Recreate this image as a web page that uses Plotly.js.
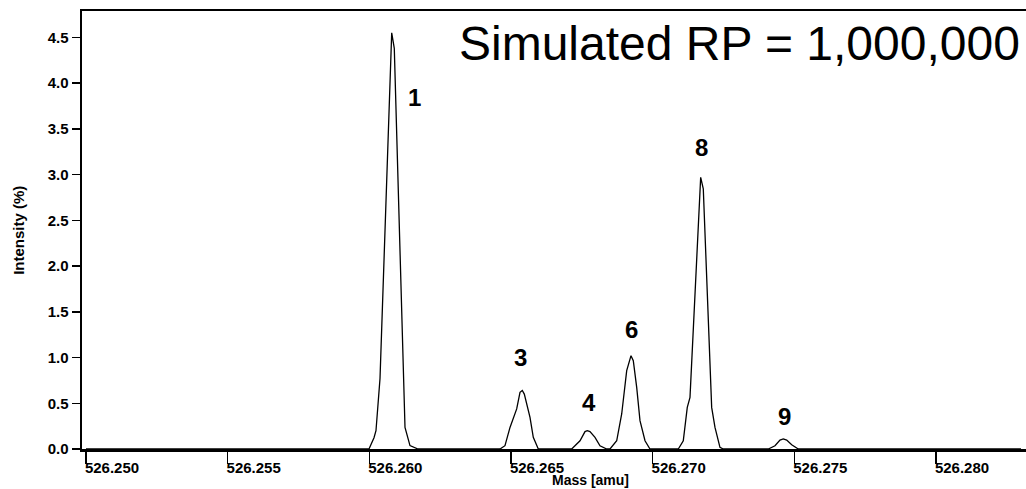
<!DOCTYPE html>
<html>
<head>
<meta charset="utf-8">
<script src="https://cdn.plot.ly/plotly-3.0.1.min.js"></script>
<style>
  html, body { margin: 0; padding: 0; background: #fff; }
  #chart { width: 1026px; height: 489px; }
</style>
</head>
<body>
<div id="chart"></div>
<script>
// Simulated isotope fine-structure profile (mass in amu, intensity in %)
const peak1Mass = [526.259988, 526.260165, 526.260235, 526.260377, 526.260790, 526.260881, 526.261259, 526.261435, 526.261718];
const peak1Int  = [0, 0.124, 0.20, 0.77, 4.55, 4.38, 0.235, 0.037, 0];

const peak3Mass = [526.264612, 526.264788, 526.264965, 526.265081, 526.265201, 526.265318, 526.265399, 526.265470, 526.265575, 526.265671, 526.265787, 526.265964];
const peak3Int  = [0, 0.036, 0.236, 0.346, 0.438, 0.62, 0.64, 0.60, 0.474, 0.346, 0.127, 0];

const peak4Mass = [526.267142, 526.267436, 526.267612, 526.267693, 526.267788, 526.267965, 526.268141, 526.268378];
const peak4Int  = [0, 0.09, 0.19, 0.20, 0.19, 0.127, 0.036, 0];

const peak6Mass = [526.268494, 526.268731, 526.268907, 526.269084, 526.269236, 526.269317, 526.269437, 526.269553, 526.269730, 526.269906];
const peak6Int  = [0, 0.09, 0.383, 0.857, 1.02, 0.966, 0.674, 0.31, 0.09, 0];

const peak8Mass = [526.270905, 526.271081, 526.271222, 526.271318, 526.271695, 526.271787, 526.272083, 526.272200, 526.272376, 526.272493];
const peak8Int  = [0, 0.09, 0.455, 0.565, 2.97, 2.845, 0.455, 0.236, 0.018, 0];

const peak9Mass = [526.274082, 526.274318, 526.274494, 526.274611, 526.274731, 526.274907, 526.275140];
const peak9Int  = [0, 0.036, 0.098, 0.11, 0.098, 0.047, 0];

const baselineMass = [526.2500, 526.2830];

// Peak numbering and where each number sits
const peakLabels   = ['1', '3', '4', '6', '8', '9'];
const labelMass    = [526.261577, 526.265318, 526.267753, 526.269236, 526.271741, 526.274636];
const labelInt     = [3.84, 1.00, 0.51, 1.305, 3.30, 0.353];

const xTickVals = [526.250, 526.255, 526.260, 526.265, 526.270, 526.275, 526.280];
const yTickVals = [0, 0.5, 1.0, 1.5, 2.0, 2.5, 3.0, 3.5, 4.0, 4.5];

const mass = [baselineMass[0]].concat(peak1Mass, peak3Mass, peak4Mass, peak6Mass, peak8Mass, peak9Mass, [baselineMass[1]]);
const intensity = [0].concat(peak1Int, peak3Int, peak4Int, peak6Int, peak8Int, peak9Int, [0]);

const FONT = 'Liberation Sans, Arial, sans-serif';

const trace = {
  x: mass,
  y: intensity,
  type: 'scatter',
  mode: 'lines',
  line: { color: '#000', width: 1.3, shape: 'linear' },
  hoverinfo: 'skip'
};

const annotations = peakLabels.map((t, i) => ({
  x: labelMass[i], y: labelInt[i], xref: 'x', yref: 'y',
  text: t, showarrow: false,
  font: { family: FONT, size: 24, color: '#000', weight: 'bold' },
  xanchor: 'center', yanchor: 'middle'
}));

annotations.push({
  x: 0.539, y: -0.071, xref: 'paper', yref: 'paper',
  text: 'Mass [amu]', showarrow: false,
  font: { family: FONT, size: 14, color: '#000', weight: 'bold' },
  xanchor: 'center', yanchor: 'middle'
});
annotations.push({
  x: -0.068, y: 0.5, xref: 'paper', yref: 'paper',
  text: 'Intensity (%)', showarrow: false, textangle: -90,
  font: { family: FONT, size: 15, color: '#000', weight: 'bold' },
  xanchor: 'center', yanchor: 'middle'
});
annotations.push({
  x: 0.996, y: 0.925, xref: 'paper', yref: 'paper',
  text: 'Simulated RP = 1,000,000', showarrow: false,
  font: { family: FONT, size: 48, color: '#000' },
  xanchor: 'right', yanchor: 'middle'
});

const layout = {
  width: 1026, height: 489,
  margin: { l: 82, r: 0, t: 11, b: 40, pad: 0 },
  paper_bgcolor: '#fff', plot_bgcolor: '#fff',
  showlegend: false,
  xaxis: {
    range: [526.249859, 526.283177],
    tickvals: xTickVals, tickformat: '.3f',
    ticks: 'outside', ticklen: 12, tickwidth: 1.5, tickcolor: '#000',
    ticklabelshift: 26, ticklabelstandoff: -9,
    tickfont: { family: FONT, size: 15, color: '#000', weight: 'bold' },
    showline: true, linewidth: 2.5, linecolor: '#000', mirror: true,
    showgrid: false, zeroline: false
  },
  yaxis: {
    range: [0, 4.788],
    tickvals: yTickVals, tickformat: '.1f',
    ticks: 'outside', ticklen: 8, tickwidth: 1.5, tickcolor: '#000',
    tickfont: { family: FONT, size: 15, color: '#000', weight: 'bold' },
    showline: true, linewidth: 2.5, linecolor: '#000', mirror: false,
    showgrid: false, zeroline: false
  },
  annotations: annotations
};

Plotly.newPlot('chart', [trace], layout, { staticPlot: true, displayModeBar: false });
</script>
</body>
</html>
